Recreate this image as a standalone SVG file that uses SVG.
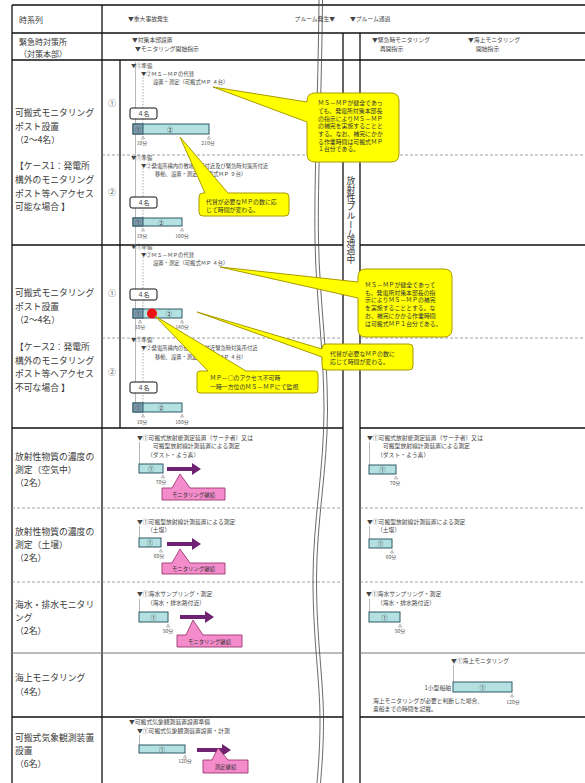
<svg xmlns="http://www.w3.org/2000/svg" width="585" height="783" viewBox="0 0 585 783">
<style>
text{font-family:"Noto Sans CJK JP","Noto Sans",sans-serif;fill:#333}
.lbl{font-size:8.8px;fill:#3a3a3a}
.hd{font-size:8px;fill:#3a3a3a}
.sm{font-size:5.8px;fill:#444}
.xs{font-size:5.3px;fill:#444}
.tk{font-size:5px;fill:#555;text-anchor:middle}
.co{font-size:5.9px;fill:#333}
.cn{font-size:8px;fill:#555;text-anchor:middle}
.bar{fill:#b3e0e0;stroke:#2e5866;stroke-width:1}
.seg{fill:#7e9cb0;stroke:#2e5866;stroke-width:1}
.bt{font-size:6px;fill:#333;text-anchor:middle}
.box{fill:#fff;stroke:#111;stroke-width:1}
.yc{fill:#ffff00;stroke:#a89a00;stroke-width:1}
.pk{fill:#f48ccc;stroke:#9c3570;stroke-width:0.9}
.pt{font-size:5.4px;fill:#333;text-anchor:middle}
.arr{fill:#6e2271}
.g{stroke:#111;stroke-width:1.3;fill:none}
.gd{stroke:#888;stroke-width:0.8;stroke-dasharray:3 2;fill:none}
.gg{stroke:#777;stroke-width:1;fill:none}
.vl{stroke:#888;stroke-width:0.6;fill:none}
.vd{stroke:#777;stroke-width:0.6;stroke-dasharray:1.5 1.5;fill:none}
.tri{fill:#fff;stroke:#777;stroke-width:0.5}
.wv{stroke:#444;stroke-width:0.8;fill:none}
</style>
<rect x="0" y="0" width="585" height="783" fill="#fff"/>

<g id="grid">
<path class="g" d="M12,5H585M12,33H585M12,60H585M12,5V783M102,5V783M343,33V783M360,33V783M120,60V428"/>
<path class="g" d="M12,245H343M360,245H585M12,428H343M360,428H585M12,717H343M360,717H585"/>
<path class="gg" d="M12,653H343M360,653H585"/>
<path class="gd" d="M102,155H343M360,155H585M102,338H343M360,338H585M12,508H343M360,508H585M12,582H343M360,582H585"/>
<path class="wv" d="M319,0 C318,100 314,180 315,240 C316,300 324,350 324,410 C324,470 313,520 313,580 C313,640 320,680 320,720 C320,750 318,770 317,783"/>
<path class="wv" d="M322.5,0 C321.5,100 317.5,180 318.5,240 C319.5,300 327.5,350 327.5,410 C327.5,470 316.5,520 316.5,580 C316.5,640 323.5,680 323.5,720 C323.5,750 321.5,770 320.5,783"/>
<text x="351" y="176" style="writing-mode:vertical-rl" font-size="8.8px" fill="#555">放射性プルーム通過中</text>
</g>

<g id="header">
<text class="hd" x="19" y="23">時系列</text>
<text class="sm" x="128" y="21">▼重大事故発生</text>
<text class="sm" x="335" y="21" text-anchor="end">プルーム発生▼</text>
<text class="sm" x="350" y="21">▼プルーム通過</text>
</g>

<g id="row-hq">
<text class="hd" x="19" y="45">緊急時対策所</text>
<text class="hd" x="19" y="57">（対策本部）</text>
<text class="sm" x="132" y="42">▼対策本部設置</text>
<text class="sm" x="135" y="50.5">▼モニタリング開始指示</text>
<text class="sm" x="372" y="42">▼緊急時モニタリング</text>
<text class="sm" x="380" y="50.5">再開指示</text>
<text class="sm" x="468" y="42">▼海上モニタリング</text>
<text class="sm" x="476" y="50.5">開始指示</text>
</g>

<g id="label-case1">
<text class="lbl" x="15" y="116">可搬式モニタリング</text>
<text class="lbl" x="15" y="130">ポスト設置</text>
<text class="lbl" x="15" y="143">（2～4名）</text>
<text class="lbl" x="15" y="169">【ケース1：発電所</text>
<text class="lbl" x="15" y="183">構外のモニタリング</text>
<text class="lbl" x="15" y="197">ポスト等へアクセス</text>
<text class="lbl" x="15" y="210">可能な場合 】</text>
</g>

<g id="label-case2">
<text class="lbl" x="15" y="296">可搬式モニタリング</text>
<text class="lbl" x="15" y="310">ポスト設置</text>
<text class="lbl" x="15" y="323">（2～4名）</text>
<text class="lbl" x="15" y="350">【ケース2：発電所</text>
<text class="lbl" x="15" y="364">構外のモニタリング</text>
<text class="lbl" x="15" y="377">ポスト等へアクセス</text>
<text class="lbl" x="15" y="391">不可な場合 】</text>
</g>

<g id="case-lines">
<path class="vl" d="M135.5,62V403"/>
<path class="vd" d="M143,77V124M143,168V218M143,257V309M143,350V403"/>
</g>

<g id="case1-1">
<text class="cn" x="112" y="106">①</text>
<text class="xs" x="131" y="67.5">▼①準備</text>
<text class="xs" x="141" y="75.5">▼②ＭＳ－ＭＰの代替</text>
<text class="xs" x="153" y="83.5">設置・測定（可搬式ＭＰ ４台）</text>
<rect class="box" x="130" y="108" width="27" height="11" rx="2"/>
<text class="bt" x="143.5" y="116">４名</text>
<rect class="bar" x="133" y="124" width="76" height="10"/>
<rect class="seg" x="133" y="124" width="10" height="10"/>
<text class="bt" x="138" y="131.5" font-size="5px">①</text>
<text class="bt" x="170" y="131.5">②</text>
<polygon class="tri" points="143,136 141.5,139 144.5,139"/>
<polygon class="tri" points="209,136 207.5,139 210.5,139"/>
<text class="tk" x="142" y="145">10分</text>
<text class="tk" x="208" y="145">210分</text>
</g>

<g id="case1-2">
<text class="cn" x="112" y="195">②</text>
<text class="xs" x="131" y="159.5">▼①準備</text>
<text class="xs" x="141" y="167.5">▼②発電所構内の敷地境界付近及び緊急時対策所付近</text>
<text class="xs" x="155" y="175.5">移動、設置・測定（可搬式ＭＰ ９台）</text>
<rect class="box" x="130" y="197" width="27" height="11" rx="2"/>
<text class="bt" x="143.5" y="205">４名</text>
<rect class="bar" x="133" y="218" width="49" height="8"/>
<rect class="seg" x="133" y="218" width="10" height="8"/>
<text class="bt" x="138" y="224.5" font-size="5px">①</text>
<text class="bt" x="161" y="224.5">②</text>
<polygon class="tri" points="143,228 141.5,231 144.5,231"/>
<polygon class="tri" points="182,228 180.5,231 183.5,231"/>
<text class="tk" x="142" y="238">10分</text>
<text class="tk" x="182" y="238">100分</text>
</g>

<g id="case2-1">
<text class="cn" x="112" y="296">①</text>
<text class="xs" x="131" y="249">▼①準備</text>
<text class="xs" x="141" y="257">▼②ＭＳ－ＭＰの代替</text>
<text class="xs" x="153" y="265">設置・測定（可搬式ＭＰ ４台）</text>
<rect class="box" x="130" y="289" width="27" height="11" rx="2"/>
<text class="bt" x="143.5" y="297">４名</text>
<rect class="bar" x="133" y="309" width="49" height="9"/>
<rect class="seg" x="133" y="309" width="10" height="9"/>
<text class="bt" x="138" y="316" font-size="5px">①</text>
<text class="bt" x="169" y="316">②</text>
<circle cx="152" cy="313.5" r="5" fill="#ee1111"/>
<polygon class="tri" points="140,320 138.5,323 141.5,323"/>
<polygon class="tri" points="182,320 180.5,323 183.5,323"/>
<text class="tk" x="140" y="329">10分</text>
<text class="tk" x="182" y="329">140分</text>
</g>

<g id="case2-2">
<text class="cn" x="112" y="375">②</text>
<text class="xs" x="131" y="342">▼①準備</text>
<text class="xs" x="141" y="350">▼②発電所構内の敷地境界付近緊急時対策所付近</text>
<text class="xs" x="155" y="358.5">移動、設置・測定（可搬式ＭＰ ４台）</text>
<rect class="box" x="130" y="382" width="27" height="11" rx="2"/>
<text class="bt" x="143.5" y="390">４名</text>
<rect class="bar" x="133" y="403" width="49" height="9"/>
<rect class="seg" x="133" y="403" width="10" height="9"/>
<text class="bt" x="138" y="410" font-size="5px">①</text>
<text class="bt" x="161" y="410">②</text>
<polygon class="tri" points="143,414 141.5,417 144.5,417"/>
<polygon class="tri" points="182,414 180.5,417 183.5,417"/>
<text class="tk" x="142" y="424">10分</text>
<text class="tk" x="182" y="424">100分</text>
</g>

<g id="callouts">
<g id="callout1">
<path class="yc" d="M315,93 H391 Q399,93 399,101 V154 Q399,162 391,162 H315 Q307,162 307,154 V122 L213,87 L307,102 V101 Q307,93 315,93 Z"/>
<text class="co" x="318" y="105">ＭＳ－ＭＰが健全であっ</text>
<text class="co" x="318" y="113">ても、発電所対策本部長</text>
<text class="co" x="318" y="120.5">の指示によりＭＳ－ＭＰ</text>
<text class="co" x="318" y="128">の補完を実施することと</text>
<text class="co" x="318" y="136">する。なお、補完にかか</text>
<text class="co" x="318" y="143.5">る作業時間は可搬式ＭＰ</text>
<text class="co" x="318" y="151">１台分である。</text>
</g>
<g id="callout2">
<path class="yc" d="M203,193 H205 L180,137 L228,193 H285 Q289,193 289,197 V212 Q289,216 285,216 H203 Q199,216 199,212 V197 Q199,193 203,193 Z"/>
<text class="co" x="206" y="203.5">代替が必要なＭＰの数に応</text>
<text class="co" x="206" y="211.5">じて時間が変わる。</text>
</g>
<g id="callout3">
<path class="yc" d="M366,269 H444 Q452,269 452,277 V329 Q452,337 444,337 H366 Q358,337 358,329 V298 L220,267 L358,282 V277 Q358,269 366,269 Z"/>
<text class="co" x="365" y="287">ＭＳ－ＭＰが健全であって</text>
<text class="co" x="365" y="294.7">も、発電所対策本部長の指</text>
<text class="co" x="365" y="302.4">示によりＭＳ－ＭＰの補完</text>
<text class="co" x="365" y="310.1">を実施することとする。な</text>
<text class="co" x="365" y="317.8">お、補完にかかる作業時間</text>
<text class="co" x="365" y="325.5">は可搬式ＭＰ１台分である。</text>
</g>
<g id="callout4">
<path class="yc" d="M326,344 H409 Q413,344 413,348 V366 Q413,370 409,370 H326 Q322,370 322,366 V357 L197,312 L322,349 V348 Q322,344 326,344 Z"/>
<text class="co" x="330" y="355.5">代替が必要なＭＰの数に</text>
<text class="co" x="330" y="364">応じて時間が変わる。</text>
</g>
<g id="callout5">
<path class="yc" d="M200,371 H208 L155,316 L246,371 H315 Q318,371 318,374 V390 Q318,393 315,393 H200 Q197,393 197,390 V374 Q197,371 200,371 Z"/>
<text class="co" x="210" y="380">ＭＰ－○のアクセス不可時</text>
<text class="co" x="210" y="389">一時一方位のＭＳ－ＭＰにて監視</text>
</g>
</g>

<g id="row-air">
<text class="lbl" x="15" y="460">放射性物質の濃度の</text>
<text class="lbl" x="15" y="473">測定（空気中）</text>
<text class="lbl" x="15" y="486">（2名）</text>
<text class="sm" x="137" y="439.5">▼①可搬式放射能測定装置（サーチ者）又は</text>
<text class="sm" x="153" y="448">可搬型放射線計測装置による測定</text>
<text class="sm" x="147" y="456.5">（ダスト・よう素）</text>
<path class="vl" d="M139.5,442V464"/>
<rect class="bar" x="139" y="464" width="24" height="9"/>
<text class="bt" x="151" y="471">①</text>
<polygon class="tri" points="163,475 161.5,478 164.5,478"/>
<text class="tk" x="161" y="484">70分</text>
<path class="arr" d="M167,467 H192 V463 L201,469 L192,475 V471 H167 Z"/>
<path class="pk" d="M162,488 H172 L180,474 L190,488 H225 V500 H162 Z"/>
<text class="pt" x="193.5" y="496.5">モニタリング継続</text>
<text class="sm" x="367" y="439.5">▼①可搬式放射能測定装置（サーチ者）又は</text>
<text class="sm" x="383" y="448">可搬型放射線計測装置による測定</text>
<text class="sm" x="377" y="456.5">（ダスト・よう素）</text>
<path class="vl" d="M369.5,442V465"/>
<rect class="bar" x="369" y="465" width="27" height="9"/>
<text class="bt" x="382.5" y="472">①</text>
<polygon class="tri" points="396,476 394.5,479 397.5,479"/>
<text class="tk" x="395" y="485">70分</text>
</g>

<g id="row-soil">
<text class="lbl" x="15" y="535">放射性物質の濃度の</text>
<text class="lbl" x="15" y="548">測定（土壌）</text>
<text class="lbl" x="15" y="561">（2名）</text>
<text class="sm" x="137" y="523.5">▼①可搬型放射線計測装置による測定</text>
<text class="sm" x="147" y="532">（土壌）</text>
<path class="vl" d="M139.5,526V538"/>
<rect class="bar" x="139" y="538" width="22" height="9"/>
<text class="bt" x="150" y="545">①</text>
<polygon class="tri" points="161,549 159.5,552 162.5,552"/>
<text class="tk" x="159" y="558">60分</text>
<path class="arr" d="M167,542 H192 V538 L201,544 L192,550 V546 H167 Z"/>
<path class="pk" d="M162,563 H172 L180,549 L190,563 H225 V574 H162 Z"/>
<text class="pt" x="193.5" y="571">モニタリング継続</text>
<text class="sm" x="367" y="523.5">▼①可搬型放射線計測装置による測定</text>
<text class="sm" x="377" y="532">（土壌）</text>
<path class="vl" d="M369.5,526V539"/>
<rect class="bar" x="369" y="539" width="23" height="9"/>
<text class="bt" x="380.5" y="546">①</text>
<polygon class="tri" points="392,550 390.5,553 393.5,553"/>
<text class="tk" x="391" y="559">60分</text>
</g>

<g id="row-sea-water">
<text class="lbl" x="15" y="608">海水・排水モニタリ</text>
<text class="lbl" x="15" y="621">ング</text>
<text class="lbl" x="15" y="634">（2名）</text>
<text class="sm" x="137" y="596">▼①海水サンプリング・測定</text>
<text class="sm" x="147" y="604.5">（海水・排水路付近）</text>
<path class="vl" d="M139.5,599V612"/>
<rect class="bar" x="139" y="612" width="29" height="10"/>
<text class="bt" x="153.5" y="619.5">①</text>
<polygon class="tri" points="168,624 166.5,627 169.5,627"/>
<text class="tk" x="168" y="633">90分</text>
<path class="arr" d="M180,615 H205 V611 L214,617 L205,623 V619 H180 Z"/>
<path class="pk" d="M177,635 H186 L193,620 L203,635 H242 V647 H177 Z"/>
<text class="pt" x="209.5" y="643.5">モニタリング継続</text>
<text class="sm" x="366" y="596">▼①海水サンプリング・測定</text>
<text class="sm" x="377" y="604.5">（海水・排水路付近）</text>
<path class="vl" d="M369.5,599V612"/>
<rect class="bar" x="369" y="612" width="31" height="10"/>
<text class="bt" x="384.5" y="619.5">①</text>
<polygon class="tri" points="400,624 398.5,627 401.5,627"/>
<text class="tk" x="400" y="633">90分</text>
</g>

<g id="row-sea">
<text class="lbl" x="15" y="681">海上モニタリング</text>
<text class="lbl" x="15" y="695">（4名）</text>
<text class="sm" x="451" y="663">▼①海上モニタリング</text>
<path class="vl" d="M453.5,665V682"/>
<text class="sm" x="451" y="689.5" text-anchor="end">1小型船舶</text>
<rect class="bar" x="453" y="682" width="59" height="10"/>
<text class="bt" x="482.5" y="689.5">①</text>
<polygon class="tri" points="512,694 510.5,697 513.5,697"/>
<text class="tk" x="513" y="704">120分</text>
<text class="sm" x="373" y="702.5">海上モニタリングが必要と判断した場合、</text>
<text class="sm" x="373" y="711">乗船までの時間を記載。</text>
</g>

<g id="row-weather">
<text class="lbl" x="15" y="741">可搬式気象観測装置</text>
<text class="lbl" x="15" y="754">設置</text>
<text class="lbl" x="15" y="767">（6名）</text>
<text class="sm" x="129" y="724">▼可搬式気象観測装置設置準備</text>
<text class="sm" x="137" y="733">▼①可搬式気象観測装置設置・計測</text>
<path class="vl" d="M139.5,735V745"/>
<rect class="bar" x="139" y="745" width="46" height="8"/>
<text class="bt" x="162" y="751.5">①</text>
<polygon class="tri" points="185,755 183.5,758 186.5,758"/>
<text class="tk" x="185" y="763">120分</text>
<path class="arr" d="M197,748 H222 V744 L231,750 L222,756 V752 H197 Z"/>
<path class="pk" d="M203,760 H212 L218,748 L228,760 H248 V773 H203 Z"/>
<text class="pt" x="225.5" y="769">測定継続</text>
</g>
</svg>
